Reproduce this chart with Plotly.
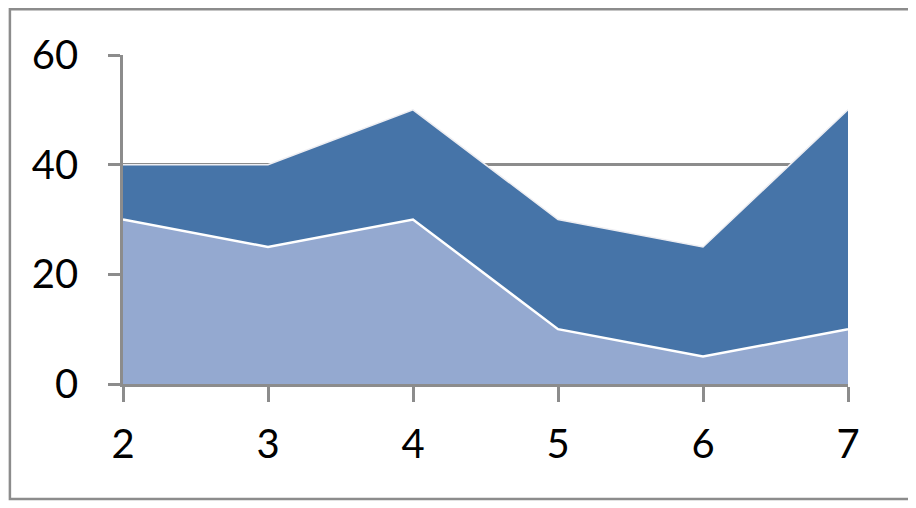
import plotly.graph_objects as go

# Données
x_vals = [2, 3, 4, 5, 6, 7]
serie_bas = [30, 25, 30, 10, 5, 10]
serie_haut = [10, 15, 20, 20, 20, 40]

y_ticks = [0, 20, 40, 60]
x_ticks = [2, 3, 4, 5, 6, 7]

fig = go.Figure()

fig.add_trace(go.Scatter(
    x=x_vals, y=serie_bas, stackgroup="one", mode="lines",
    line=dict(color="white", width=2.5),
    fillcolor="#94a9d0", name="Série 1"
))
fig.add_trace(go.Scatter(
    x=x_vals, y=serie_haut, stackgroup="one", mode="lines",
    line=dict(color="#eeeef2", width=1.5),
    fillcolor="#4674a8", name="Série 2"
))

font = dict(family="Lato, Open Sans, sans-serif", size=40, color="black")

# la page ajoute une marge de 8 px autour du graphique
fig.update_layout(
    width=908, height=500,
    margin=dict(l=115, r=68, t=47, b=124),
    paper_bgcolor="white", plot_bgcolor="white",
    showlegend=False,
    font=font,
    shapes=[dict(
        type="rect", xref="paper", yref="paper",
        x0=-0.156, x1=1.0855, y0=-0.3495, y1=1.139,
        line=dict(color="#8c8c8c", width=2.5), layer="below"
    )],
)

fig.update_xaxes(
    range=[2, 7], tickvals=x_ticks, showgrid=False,
    showline=True, linecolor="#8c8c8c", linewidth=2.5,
    ticks="outside", ticklen=15, tickwidth=2.5, tickcolor="#8c8c8c",
    zeroline=False, tickfont=font, ticklabelstandoff=8
)
fig.update_yaxes(
    range=[0, 60], tickvals=y_ticks, showgrid=True,
    gridcolor="#8c8c8c", gridwidth=2.5,
    showline=True, linecolor="#8c8c8c", linewidth=2.5,
    ticks="outside", ticklen=12, tickwidth=2.5, tickcolor="#8c8c8c",
    zeroline=False, tickfont=font, ticklabelstandoff=22
)

fig.write_html("out.html")
